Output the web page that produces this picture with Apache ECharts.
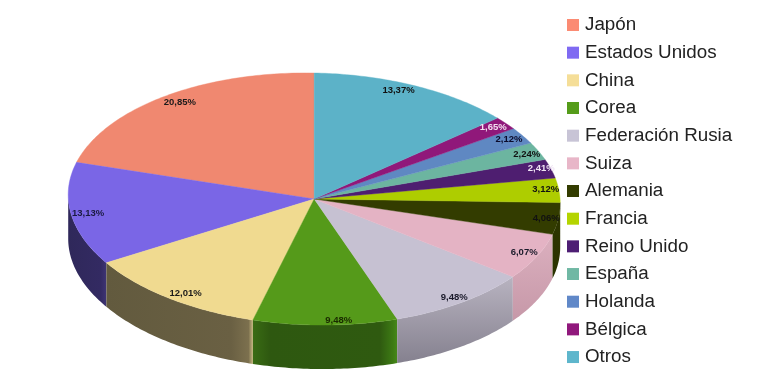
<!DOCTYPE html>
<html>
<head>
<meta charset="utf-8">
<style>
    html, body { margin: 0; padding: 0; background: #fff; }
    #chart { width: 762px; height: 388px; filter: blur(0.35px); }
</style>
<script src="https://cdn.jsdelivr.net/npm/echarts@6/dist/echarts.min.js"></script>
</head>
<body>
<div id="chart"></div>
<script>
const categories = ['Japón', 'Estados Unidos', 'China', 'Corea', 'Federación Rusia', 'Suiza', 'Alemania',
    'Francia', 'Reino Unido', 'España', 'Holanda', 'Bélgica', 'Otros']
const shares = [20.85, 13.13, 12.01, 9.48, 9.48, 6.07, 4.06, 3.12, 2.41, 2.24, 2.12, 1.65, 13.37]

const legendColors = ['#fb8b73', '#7f6af2', '#f5de98', '#559c1a', '#c8c4d6', '#e8b6c8', '#333c00',
    '#b4d400', '#4e1e74', '#70b8a4', '#6088c8', '#90187c', '#5eb6cc']
const topColors = ['#f08870', '#7a66e6', '#f0da90', '#559a1a', '#c6c1d2', '#e4b3c4', '#333c00',
    '#aecd00', '#4e1e70', '#6cb5a0', '#5f88c2', '#90187a', '#5cb2c8']
const labelColors = ['#1a1a1a', '#1a1a40', '#1a1a1a', '#1a2a00', '#1a1a2a', '#1a1a2a', '#111',
    '#111', '#f0e4f4', '#111', '#0a0a2a', '#f4e0f0', '#111']

// wall shading, only the slices on the front half have one
const wallShades = {
    'Estados Unidos': [1, 0, [[0, '#2f285a'], [0.85, '#332a62'], [1, '#3e3474']]],
    'China': [1, 0, [[0, '#625a3e'], [0.85, '#6a6043'], [0.97, '#7c704e'], [1, '#c8b880']]],
    'Corea': [1, 0, [[0, '#3a6c14'], [0.12, '#2e5810'], [0.88, '#2f5a10'], [0.97, '#3d7a14'], [1, '#46881a']]],
    'Federación Rusia': [0, 1, [[0, '#b8b3c0'], [1, '#85818f']]],
    'Suiza': [0, 1, [[0, '#dcb0bf'], [1, '#c698a8']]],
    'Alemania': [0, 1, [[0, '#2e3600'], [1, '#2a3200']]]
}

// pie geometry in px
const cx = 314.2
const cy = 199
const rx = 246
const ry = 126
const depth = 44
const tilt = 0.0175 // the disc leans a bit, right side lower
const labelRadius = 0.93
// hand nudges of the labels
const labelNudge = [[5, -4], [0, -3], [6, 0], [14, 4], [3, 5], [3, 3], [5, 5], [4, 2], [7, 1], [4, 4], [1, 3], [1, 2], [-9, -2]]

const total = shares.reduce((a, b) => a + b, 0)
const toAngle = (v) => v / total * Math.PI * 2

// slices go counter clockwise from 12 o'clock
const rimPoint = (a, k) => [cx - rx * k * Math.sin(a), cy - ry * k * Math.cos(a)]

const arc = (a0, a1, dy) => {
    const steps = Math.max(2, Math.ceil((a1 - a0) / 0.015))
    const pts = []
    for (let i = 0; i <= steps; i++) {
        const p = rimPoint(a0 + (a1 - a0) * i / steps, 1)
        pts.push([p[0], p[1] + (p[0] - cx) * tilt + dy])
    }
    return pts
}

const renderSlice = (params) => {
    const i = params.seriesIndex
    const before = shares.slice(0, i).reduce((a, b) => a + b, 0)
    const a0 = toAngle(before)
    const a1 = toAngle(before + shares[i])
    const children = []

    const shade = wallShades[categories[i]]
    const w0 = Math.max(a0, Math.PI / 2)
    const w1 = Math.min(a1, Math.PI * 1.5)
    if (shade && w1 > w0) {
        const wallPts = arc(w0, w1, 0).concat(arc(w0, w1, depth).reverse())
        const fill = new echarts.graphic.LinearGradient(0, 0, shade[0], shade[1],
            shade[2].map((s) => ({ offset: s[0], color: s[1] })))
        children.push({
            type: 'polygon',
            z2: 1,
            shape: { points: wallPts },
            style: { fill: fill, stroke: null }
        })
    }

    children.push({
        type: 'polygon',
        z2: 2,
        shape: { points: [[cx, cy]].concat(arc(a0, a1, 0)) },
        style: { fill: topColors[i], stroke: topColors[i], lineWidth: 0.4 }
    })

    const mid = rimPoint((a0 + a1) / 2, labelRadius)
    children.push({
        type: 'text',
        z2: 10,
        x: mid[0] + labelNudge[i][0],
        y: mid[1] + labelNudge[i][1],
        style: {
            text: shares[i].toFixed(2).replace('.', ',') + '%',
            fill: labelColors[i],
            font: 'bold 9.5px "Liberation Sans"',
            align: 'center',
            verticalAlign: 'middle'
        }
    })
    return { type: 'group', children: children }
}

const myChart = echarts.init(document.getElementById('chart'), null, { renderer: 'canvas' })
myChart.setOption({
    animation: false,
    backgroundColor: '#fff',
    tooltip: {
        trigger: 'item',
        formatter: (p) => p.seriesName + ': ' + String(p.value).replace('.', ',') + '%'
    },
    legend: {
        orient: 'vertical',
        left: 567,
        top: 15,
        padding: 0,
        icon: 'rect',
        itemWidth: 12,
        itemHeight: 12,
        itemGap: 7.67,
        selectedMode: false,
        textStyle: {
            color: '#222',
            fontFamily: 'Liberation Sans',
            fontSize: 18.8,
            lineHeight: 20,
            padding: [0, 0, 0, 1]
        },
        data: categories
    },
    series: categories.map((name, i) => ({
        name: name,
        type: 'custom',
        coordinateSystem: 'none',
        itemStyle: { color: legendColors[i] },
        renderItem: renderSlice,
        data: [shares[i]]
    }))
})
</script>
</body>
</html>
